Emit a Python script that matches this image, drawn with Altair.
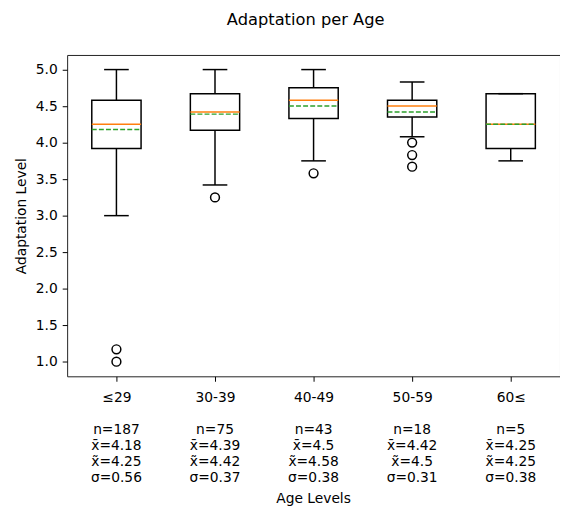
import altair as alt
import pandas as pd

categories = ["≤29", "30-39", "40-49", "50-59", "60≤"]
q1 = [3.92, 4.17, 4.33, 4.35, 3.92]
medians = [4.25, 4.42, 4.58, 4.50, 4.25]
q3 = [4.58, 4.67, 4.75, 4.58, 4.67]
means = [4.18, 4.39, 4.50, 4.42, 4.25]
whisk_lo = [3.00, 3.42, 3.75, 4.08, 3.75]
whisk_hi = [5.00, 5.00, 5.00, 4.83, 4.67]
counts = [187, 75, 43, 18, 5]
stds = [0.56, 0.37, 0.38, 0.31, 0.38]
outlier_cat = ["≤29", "≤29", "30-39", "40-49", "50-59", "50-59", "50-59"]
outlier_val = [1.17, 1.00, 3.25, 3.58, 4.00, 3.83, 3.67]


def fmt(v):
    return f"{v:.2f}".rstrip("0").rstrip(".")


stats_text = [
    "\n".join([f"n={n}", f"x\u0304={fmt(m)}", f"x\u0303={fmt(md)}", f"\u03c3={fmt(s)}"])
    for n, m, md, s in zip(counts, means, medians, stds)
]

df = pd.DataFrame({
    "cat": categories,
    "pos": list(range(1, len(categories) + 1)),
    "q1": q1, "med": medians, "q3": q3, "mean": means,
    "lo": whisk_lo, "hi": whisk_hi,
    "stats": stats_text,
})
odf = pd.DataFrame({
    "pos": [categories.index(c) + 1 for c in outlier_cat],
    "val": outlier_val,
})

label_expr = "[" + ",".join("'" + c + "'" for c in categories) + "][datum.value - 1]"

FONT = "DejaVu Sans"
FS = 14
xscale = alt.Scale(domain=[0.5, 5.5], nice=False, zero=False)
yscale = alt.Scale(domain=[0.8, 5.2], nice=False, zero=False)

xaxis = alt.Axis(
    values=[1, 2, 3, 4, 5], labelExpr=label_expr, title=None,
    grid=False, domain=False, tickColor="black", tickSize=5, tickWidth=1,
    labelFont=FONT, labelFontSize=FS, labelColor="black",
    labelPadding=10, labelAngle=0,
)
yaxis = alt.Axis(
    values=[1.0, 1.5, 2.0, 2.5, 3.0, 3.5, 4.0, 4.5, 5.0], format=".1f",
    title="Adaptation Level", grid=False, domain=False,
    tickColor="black", tickSize=5, tickWidth=1,
    labelFont=FONT, labelFontSize=FS, labelColor="black", labelPadding=5,
    titleFont=FONT, titleFontSize=FS, titleFontWeight="normal", titleColor="black",
    titleX=-46, titleY=163, titleAngle=270, titleBaseline="middle", titleAlign="center",
)

X = lambda f: alt.X(f, type="quantitative", scale=xscale, axis=xaxis)
Y = lambda f: alt.Y(f, type="quantitative", scale=yscale, axis=yaxis)

base = alt.Chart(df).transform_calculate(
    bl="datum.pos - 0.25", br="datum.pos + 0.25",
    cl="datum.pos - 0.125", cr="datum.pos + 0.125",
)
LW = 1.5

boxes = base.mark_rect(filled=False, stroke="black", strokeWidth=LW).encode(
    x=X("bl"), x2="br", y=Y("q1"), y2="q3")
wh_hi = base.mark_rule(color="black", strokeWidth=LW).encode(
    x=X("pos"), y=Y("q3"), y2="hi")
wh_lo = base.mark_rule(color="black", strokeWidth=LW).encode(
    x=X("pos"), y=Y("lo"), y2="q1")
cap_hi = base.mark_rule(color="black", strokeWidth=LW).encode(
    x=X("cl"), x2="cr", y=Y("hi"))
cap_lo = base.mark_rule(color="black", strokeWidth=LW).encode(
    x=X("cl"), x2="cr", y=Y("lo"))
med = base.mark_rule(color="#ff7f0e", strokeWidth=LW).encode(
    x=X("bl"), x2="br", y=Y("med"))
mean = base.mark_rule(color="#2ca02c", strokeWidth=LW, strokeDash=[5, 2.2]).encode(
    x=X("bl"), x2="br", y=Y("mean"))
outl = alt.Chart(odf).mark_point(shape="circle", filled=False, stroke="black",
                                  strokeWidth=LW, size=80, opacity=1).encode(
    x=X("pos"), y=Y("val"))
stats = base.mark_text(font=FONT, fontSize=FS, color="black", align="center",
                       baseline="alphabetic", lineBreak="\n", lineHeight=16).encode(
    x=X("pos"), y=alt.value(385), text="stats:N")
xtitle = alt.Chart(pd.DataFrame({"t": ["Age Levels"]})).mark_text(
    font=FONT, fontSize=FS, color="black", align="center", baseline="alphabetic").encode(
    x=alt.value(250), y=alt.value(455), text="t:N")

chart = alt.layer(boxes, wh_hi, wh_lo, cap_hi, cap_lo, med, mean, outl, stats, xtitle).properties(
    width=500, height=326,
    padding={"left": 60, "top": 44, "right": 0, "bottom": 134},
    autosize=alt.AutoSizeParams(type="none"),
    title=alt.Title("Adaptation per Age", font=FONT, fontSize=16.5, fontWeight="normal",
                    color="black", anchor="middle", dx=-8, offset=14,
                    baseline="alphabetic", frame="group"),
).configure_view(stroke="#222", strokeWidth=1)

chart.save("out.html", embed_options={"renderer": "svg", "actions": False})
